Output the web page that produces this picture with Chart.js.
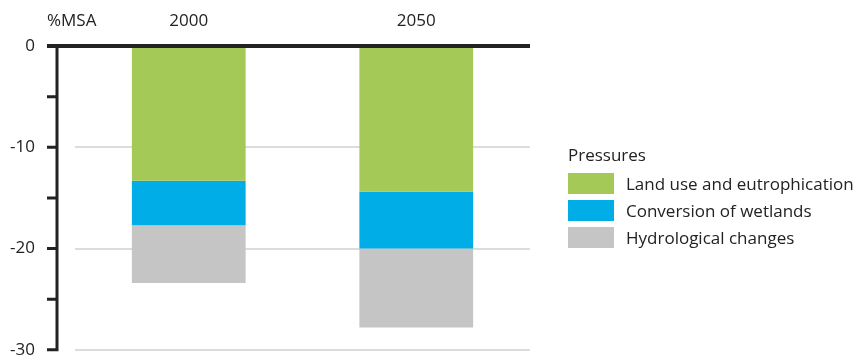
<!DOCTYPE html>
<html>
<head>
<meta charset="utf-8">
<script src="https://cdn.jsdelivr.net/npm/chart.js@4.4.1/dist/chart.umd.min.js"></script>
<style>
  html, body { margin: 0; padding: 0; background: #fff; }
  #wrap { position: relative; width: 858px; height: 360px; }
  #legend { position: absolute; left: 568px; top: 143px; font-family: "Open Sans", sans-serif; font-size: 17px; font-weight: 500; color: #222; }
  #legend .title { height: 27px; line-height: 24px; }
  #legend .row { display: flex; align-items: center; height: 27px; }
  #legend .box { width: 46px; height: 21px; margin-right: 12px; }
</style>
</head>
<body>
<div id="wrap">
  <canvas id="myChart" width="858" height="360"></canvas>
  <div id="legend"></div>
</div>
<script>
// data (%MSA loss per pressure)
var years = ["2000", "2050"];
var landUse = [-13.3, -14.4];
var wetlands = [-4.4, -5.6];
var hydrology = [-5.7, -7.8];

var seriesNames = ["Land use and eutrophication", "Conversion of wetlands", "Hydrological changes"];
var seriesColors = ["#a5c956", "#00ade6", "#c5c5c5"];
var legendTitle = "Pressures";
var axisTitle = "%MSA";

var fontFamily = '"Open Sans", sans-serif';
var ink = "#222";

// axis line, tick marks, zero line and unit label
var axisPlugin = {
  id: 'axisPlugin',
  afterDatasetsDraw: function(chart) {
    var ctx = chart.ctx;
    var y = chart.scales.y;
    var area = chart.chartArea;
    var axisX = area.left - 18;
    ctx.save();
    ctx.strokeStyle = ink;
    ctx.lineWidth = 3;
    ctx.beginPath();
    ctx.moveTo(axisX, y.getPixelForValue(0));
    ctx.lineTo(axisX, y.getPixelForValue(-30) + 1.5);
    y.ticks.forEach(function(t) {
      var py = y.getPixelForValue(t.value);
      ctx.moveTo(axisX - 10, py);
      ctx.lineTo(axisX, py);
    });
    ctx.stroke();

    ctx.lineWidth = 4;
    ctx.beginPath();
    ctx.moveTo(axisX - 10, y.getPixelForValue(0));
    ctx.lineTo(area.right, y.getPixelForValue(0));
    ctx.stroke();

    ctx.fillStyle = ink;
    ctx.font = '500 17px ' + fontFamily;
    ctx.textBaseline = 'middle';
    ctx.textAlign = 'left';
    ctx.fillText(axisTitle, axisX - 10, 21);
    ctx.restore();
  }
};

var ctx = document.getElementById("myChart");
var myChart = new Chart(ctx, {
  type: 'bar',
  data: {
    labels: years,
    datasets: [
      { label: seriesNames[0], data: landUse, backgroundColor: seriesColors[0] },
      { label: seriesNames[1], data: wetlands, backgroundColor: seriesColors[1] },
      { label: seriesNames[2], data: hydrology, backgroundColor: seriesColors[2] }
    ]
  },
  options: {
    responsive: false,
    animation: false,
    devicePixelRatio: 1,
    layout: { padding: { top: 0, right: 328, bottom: 0, left: 0 } },
    plugins: { legend: { display: false }, tooltip: { enabled: false } },
    datasets: { bar: { categoryPercentage: 1, barPercentage: 0.5, borderWidth: 0 } },
    scales: {
      x: {
        position: 'top',
        stacked: true,
        grid: { display: false },
        border: { display: false },
        ticks: { color: ink, font: { family: fontFamily, size: 17, weight: 500 }, padding: 7 },
        afterFit: function(s) { s.height = 46; }
      },
      y: {
        stacked: true,
        min: -30,
        max: 0,
        border: { display: false },
        grid: {
          drawTicks: true,
          tickLength: 40,
          tickColor: 'rgba(0,0,0,0)',
          lineWidth: 2,
          color: function(c) {
            var v = c.tick.value;
            return (v % 10 === 0 && v !== 0) ? '#dcdcdc' : 'rgba(0,0,0,0)';
          }
        },
        ticks: {
          stepSize: 5,
          autoSkip: false,
          padding: 0,
          color: ink,
          font: { family: fontFamily, size: 17, weight: 500 },
          callback: function(v) { return v % 10 === 0 ? v : ''; }
        },
        afterFit: function(s) { s.width = 75; }
      }
    }
  },
  plugins: [axisPlugin]
});

// legend
var legend = document.getElementById("legend");
var html = '<div class="title">' + legendTitle + '</div>';
seriesNames.forEach(function(name, i) {
  html += '<div class="row"><div class="box" style="background:' + seriesColors[i] + '"></div><span>' + name + '</span></div>';
});
legend.innerHTML = html;
</script>
</body>
</html>
